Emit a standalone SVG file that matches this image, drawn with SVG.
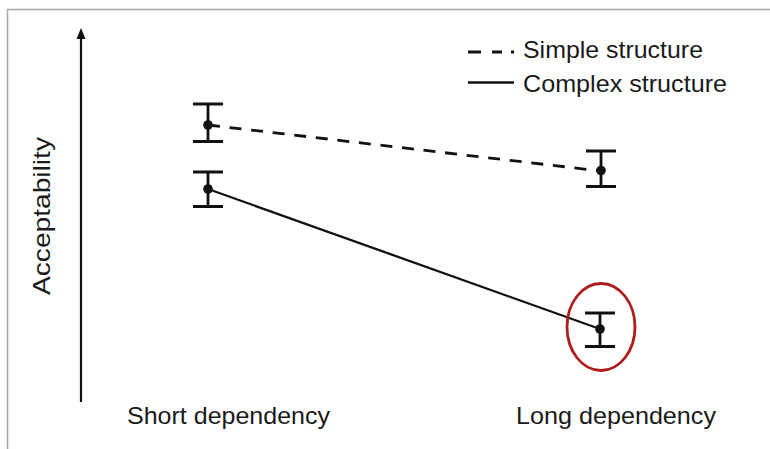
<svg xmlns="http://www.w3.org/2000/svg" width="770" height="449" viewBox="0 0 770 449">
<defs>
<style>
.lbl{font-family:"Liberation Sans",Arial,sans-serif;font-size:24px;fill:#1a1a1a}
.eb{stroke:#111;stroke-width:2.8;fill:none}
.dot{fill:#111}
.ln{stroke:#111;fill:none}
</style>
</defs>
<rect x="0" y="0" width="770" height="449" fill="#fff"/>
<path d="M7.5 449 V9.5 H770" fill="none" stroke="#a8a8a8" stroke-width="1.5"/>

<g id="axis">
<line x1="81" y1="402" x2="81" y2="38" stroke="#111" stroke-width="2.2"/>
<path d="M76.5,39 L81,28 L85.5,39 Z" fill="#111"/>
<text class="lbl" transform="translate(49.5,216) rotate(-90)" text-anchor="middle" textLength="158" lengthAdjust="spacingAndGlyphs">Acceptability</text>
</g>

<g id="connectors">
<line class="ln" x1="208" y1="125" x2="601" y2="171" stroke-width="2.8" stroke-dasharray="12 9.7"/>
<line class="ln" x1="208" y1="189" x2="600" y2="329" stroke-width="2.3"/>
</g>

<g id="short-simple">
<path class="eb" d="M193 104 H223 M193 141.5 H223 M208 104 V141.5"/>
<circle class="dot" cx="208" cy="125" r="4.8"/>
</g>
<g id="short-complex">
<path class="eb" d="M193 172 H223 M193 206.5 H223 M208 172 V206.5"/>
<circle class="dot" cx="208" cy="189" r="4.8"/>
</g>
<g id="long-simple">
<path class="eb" d="M586 151 H616 M586 186.5 H616 M601 151 V186.5"/>
<circle class="dot" cx="601" cy="170.5" r="4.8"/>
</g>
<g id="long-complex">
<path class="eb" d="M585 313 H615 M585 346.5 H615 M600 313 V346.5"/>
<circle class="dot" cx="600" cy="329" r="4.8"/>
</g>
<g id="highlight">
<ellipse cx="601" cy="327" rx="34" ry="43.5" fill="none" stroke="#b01c1c" stroke-width="2.8"/>
</g>

<g id="legend">
<line class="ln" x1="468" y1="52" x2="514" y2="52" stroke-width="2.8" stroke-dasharray="13 11 10 9"/>
<text class="lbl" x="523" y="57.5" textLength="180" lengthAdjust="spacingAndGlyphs">Simple structure</text>
<line class="ln" x1="468" y1="82.5" x2="514" y2="82.5" stroke-width="2.4"/>
<text class="lbl" x="523" y="91.5" textLength="204" lengthAdjust="spacingAndGlyphs">Complex structure</text>
</g>

<g id="x-labels">
<text class="lbl" x="127" y="424" textLength="203" lengthAdjust="spacingAndGlyphs">Short dependency</text>
<text class="lbl" x="516" y="424" textLength="200" lengthAdjust="spacingAndGlyphs">Long dependency</text>
</g>
</svg>
